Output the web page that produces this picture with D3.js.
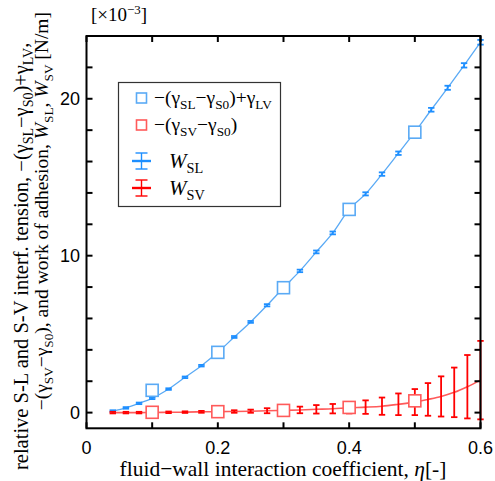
<!DOCTYPE html>
<html>
<head>
<meta charset="utf-8">
<script src="https://cdn.jsdelivr.net/npm/d3@7"></script>
<style>
  body { margin: 0; background: #fff; }
  svg { display: block; }
  .serif { font-family: "Liberation Serif", "DejaVu Serif", serif; }
  .sans { font-family: "Liberation Sans", Arial, sans-serif; }
</style>
</head>
<body>
<div id="chart"></div>
<script>
// eta values for the open squares (interfacial tension)
var etaTension = [0.1, 0.2, 0.3, 0.4, 0.5];
var tensionSL = [1.42, 3.84, 7.96, 12.95, 17.87];   // -(gSL-gS0)+gLV
var tensionSV = [0.02, 0.06, 0.14, 0.33, 0.75];     // -(gSV-gS0)

// work of adhesion W_SL (blue error bars)
var etaSL = [0.04, 0.06, 0.08, 0.1, 0.125, 0.15, 0.175, 0.2, 0.225, 0.25, 0.275, 0.3,
  0.325, 0.35, 0.375, 0.4, 0.425, 0.45, 0.475, 0.5, 0.525, 0.55, 0.575, 0.6];
var wSL = [0.1, 0.3, 0.59, 0.91, 1.5, 2.25, 2.99, 3.84, 4.82, 5.78, 6.84, 7.96,
  9.03, 10.24, 11.45, 12.95, 13.94, 15.2, 16.53, 17.87, 19.3, 20.7, 22.13, 23.6];
var errSL = [0.05, 0.05, 0.05, 0.05, 0.05, 0.05, 0.05, 0.06, 0.06, 0.06, 0.07, 0.08,
  0.08, 0.09, 0.09, 0.1, 0.1, 0.11, 0.11, 0.12, 0.12, 0.13, 0.14, 0.15];

// work of adhesion W_SV (red error bars)
var etaSV = [0.04, 0.06, 0.08, 0.1, 0.125, 0.15, 0.175, 0.2, 0.225, 0.25, 0.275, 0.3,
  0.325, 0.35, 0.375, 0.4, 0.425, 0.45, 0.475, 0.5, 0.52, 0.54, 0.56, 0.58, 0.6];
var wSV = [0, 0, 0, 0.01, 0.02, 0.03, 0.05, 0.06, 0.07, 0.09, 0.12, 0.14,
  0.17, 0.21, 0.25, 0.31, 0.35, 0.41, 0.53, 0.67, 0.84, 1.03, 1.29, 1.65, 2.07];
var errSV = [0.05, 0.05, 0.05, 0.05, 0.05, 0.05, 0.06, 0.07, 0.08, 0.1, 0.16, 0.18,
  0.21, 0.27, 0.3, 0.36, 0.43, 0.55, 0.69, 0.83, 1.04, 1.28, 1.58, 2.02, 2.5];

var xTicks = [0, 0.1, 0.2, 0.3, 0.4, 0.5, 0.6];
var xLabels = [0, 0.2, 0.4, 0.6];
var yTicks = [0, 2, 4, 6, 8, 10, 12, 14, 16, 18, 20, 22];
var yLabels = [0, 10, 20];

var blue = "#1e8fff", blueLight = "#5aaaf5";
var red = "#ff0000", redLight = "#ff5a5a";

var W = 495, H = 481;
var x = d3.scaleLinear().domain([0, 0.6]).range([86.5, 480.5]);
var y = d3.scaleLinear().domain([-1, 24]).range([428.3, 36]);

var svg = d3.select("#chart").append("svg")
  .attr("width", W)
  .attr("height", H);

// writes text made of parts: [string, kind] kind = n | s (subscript) | i (italic) | sup
function rich(text, parts, size) {
  var shift = 0;
  parts.forEach(function(p) {
    var t = text.append("tspan").text(p[0]);
    var want = 0;
    if (p[1] == "s") want = size * 0.25;
    if (p[1] == "sup") want = -size * 0.38;
    t.attr("dy", want - shift);
    shift = want;
    if (p[1] == "s" || p[1] == "sup") t.attr("font-size", size * 0.68);
    if (p[1] == "i") t.attr("font-style", "italic");
  });
}

// lines through the W means
var lineGen = d3.line().curve(d3.curveMonotoneX);

svg.append("path")
  .attr("d", lineGen(etaSL.map((e, i) => [x(e), y(wSL[i])])))
  .attr("fill", "none")
  .attr("stroke", blueLight)
  .attr("stroke-width", 1.3);

svg.append("path")
  .attr("d", lineGen(etaSV.map((e, i) => [x(e), y(wSV[i])])))
  .attr("fill", "none")
  .attr("stroke", redLight)
  .attr("stroke-width", 1.6);

function errorBars(etas, vals, errs, color) {
  var g = svg.append("g").attr("stroke", color);
  etas.forEach(function(e, i) {
    var cx = x(e), lo = y(vals[i] - errs[i]), hi = y(vals[i] + errs[i]);
    g.append("line").attr("x1", cx).attr("x2", cx).attr("y1", lo).attr("y2", hi)
      .attr("stroke-width", 1.8);
    [lo, hi].forEach(function(yy) {
      g.append("line").attr("x1", cx - 3.2).attr("x2", cx + 3.2).attr("y1", yy).attr("y2", yy)
        .attr("stroke-width", 1.8);
    });
  });
}

errorBars(etaSL, wSL, errSL, blue);
errorBars(etaSV, wSV, errSV, red);

function squares(vals, color) {
  svg.append("g")
    .selectAll("rect")
    .data(vals)
    .enter()
    .append("rect")
    .attr("x", (d, i) => x(etaTension[i]) - 6)
    .attr("y", (d) => y(d) - 6)
    .attr("width", 12)
    .attr("height", 12)
    .attr("fill", "#fff")
    .attr("stroke", color)
    .attr("stroke-width", 1.6);
}

squares(tensionSV, redLight);
squares(tensionSL, blueLight);

// frame and ticks (inward on all sides)
var x0 = x.range()[0], x1 = x.range()[1], y0 = y.range()[0], y1 = y.range()[1];
var frame = svg.append("g").attr("stroke", "#000").attr("stroke-width", 2);
frame.append("rect")
  .attr("x", x0).attr("y", y1)
  .attr("width", x1 - x0).attr("height", y0 - y1)
  .attr("fill", "none");

var tl = 6;
xTicks.forEach(function(t) {
  frame.append("line").attr("x1", x(t)).attr("x2", x(t)).attr("y1", y0).attr("y2", y0 - tl);
  frame.append("line").attr("x1", x(t)).attr("x2", x(t)).attr("y1", y1).attr("y2", y1 + tl);
});
yTicks.forEach(function(t) {
  frame.append("line").attr("x1", x0).attr("x2", x0 + tl).attr("y1", y(t)).attr("y2", y(t));
  frame.append("line").attr("x1", x1).attr("x2", x1 - tl).attr("y1", y(t)).attr("y2", y(t));
});

svg.selectAll("text.xl")
  .data(xLabels)
  .enter()
  .append("text")
  .attr("class", "xl sans")
  .attr("x", (d) => x(d))
  .attr("y", 454)
  .attr("text-anchor", "middle")
  .attr("font-size", 18)
  .text((d) => d);

svg.selectAll("text.yl")
  .data(yLabels)
  .enter()
  .append("text")
  .attr("class", "yl sans")
  .attr("x", 80)
  .attr("y", (d) => y(d) + 6.5)
  .attr("text-anchor", "end")
  .attr("font-size", 18)
  .text((d) => d);

// scale factor label
rich(svg.append("text").attr("class", "serif").attr("x", 91).attr("y", 21).attr("font-size", 19),
  [["[×10", "n"], ["−3", "sup"], ["]", "n"]], 19);

// x title
rich(svg.append("text").attr("class", "serif")
    .attr("x", 283).attr("y", 476).attr("text-anchor", "middle").attr("font-size", 21.5),
  [["fluid−wall interaction coefficient, ", "n"], ["η", "i"], ["[-]", "n"]], 21.5);

// y title, two rotated lines
rich(svg.append("text").attr("class", "serif")
    .attr("transform", "translate(28,470) rotate(-90)").attr("font-size", 20.5),
  [["relative S-L and S-V interf. tension, −(γ", "n"], ["SL", "s"], ["−γ", "n"], ["S0", "s"],
   [")+γ", "n"], ["LV", "s"], [",", "n"]], 20.5);

rich(svg.append("text").attr("class", "serif")
    .attr("transform", "translate(48,12) rotate(-90)").attr("font-size", 19.5)
    .attr("text-anchor", "end"),
  [["−(γ", "n"], ["SV", "s"], ["−γ", "n"], ["S0", "s"], ["), and work of adhesion, ", "n"],
   ["W", "i"], ["SL", "s"], [", ", "n"], ["W", "i"], ["SV", "s"], [" [N/m]", "n"]], 19.5);

// legend
var lg = svg.append("g");
lg.append("rect")
  .attr("x", 118.5).attr("y", 82.5)
  .attr("width", 162).attr("height", 124)
  .attr("fill", "#fff")
  .attr("stroke", "#333")
  .attr("stroke-width", 1.2);

var legendRows = [98, 125, 161, 188];

[[blueLight, legendRows[0]], [redLight, legendRows[1]]].forEach(function(r) {
  lg.append("rect")
    .attr("x", 136.5).attr("y", r[1] - 5)
    .attr("width", 10).attr("height", 10)
    .attr("fill", "#fff")
    .attr("stroke", r[0])
    .attr("stroke-width", 1.6);
});

rich(lg.append("text").attr("class", "serif").attr("x", 154).attr("y", legendRows[0] + 6).attr("font-size", 19.5),
  [["−(γ", "n"], ["SL", "s"], ["−γ", "n"], ["S0", "s"], [")+γ", "n"], ["LV", "s"]], 19.5);
rich(lg.append("text").attr("class", "serif").attr("x", 154).attr("y", legendRows[1] + 6).attr("font-size", 19.5),
  [["−(γ", "n"], ["SV", "s"], ["−γ", "n"], ["S0", "s"], [")", "n"]], 19.5);

[[blue, legendRows[2], "SL"], [red, legendRows[3], "SV"]].forEach(function(r) {
  var g = lg.append("g").attr("stroke", r[0]);
  var cx = 141.5, cy = r[1];
  g.append("line").attr("x1", cx - 9.5).attr("x2", cx + 9.5).attr("y1", cy).attr("y2", cy).attr("stroke-width", 2.4);
  g.append("line").attr("x1", cx).attr("x2", cx).attr("y1", cy - 8).attr("y2", cy + 8).attr("stroke-width", 1.4);
  g.append("line").attr("x1", cx - 6).attr("x2", cx + 6).attr("y1", cy - 8).attr("y2", cy - 8).attr("stroke-width", 1.4);
  g.append("line").attr("x1", cx - 6).attr("x2", cx + 6).attr("y1", cy + 8).attr("y2", cy + 8).attr("stroke-width", 1.4);
  rich(lg.append("text").attr("class", "serif").attr("x", 169).attr("y", cy + 7).attr("font-size", 21),
    [["W", "i"], [r[2], "s"]], 21);
});
</script>
</body>
</html>
